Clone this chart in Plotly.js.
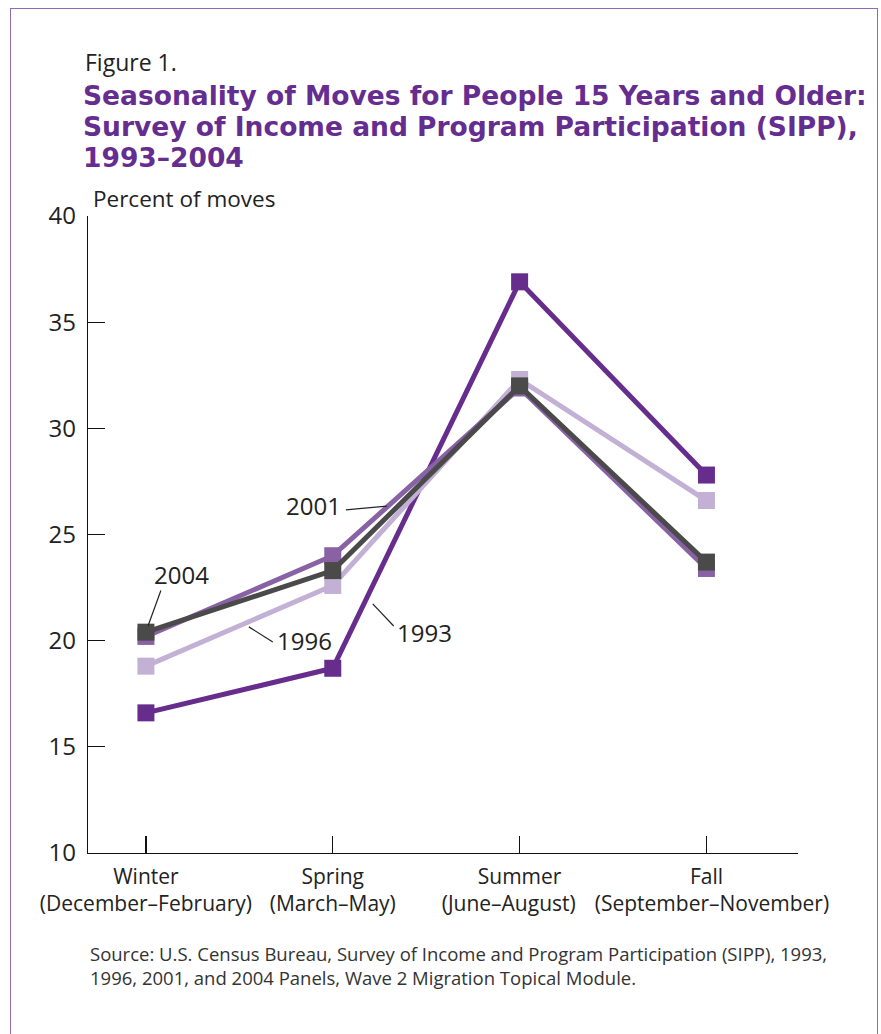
<!DOCTYPE html>
<html>
<head>
<meta charset="utf-8">
<script src="https://cdn.plot.ly/plotly-3.0.1.min.js"></script>
<style>
  html, body { margin: 0; padding: 0; background: #fff; }
  #frame { position: absolute; left: 10px; top: 8px; width: 868px; height: 1040px; border: 1.5px solid #8f6bb5; box-sizing: border-box; pointer-events: none; z-index: 5; }
  #chart { width: 881px; height: 1034px; }
</style>
</head>
<body>
<div id="frame"></div>
<div id="chart"></div>
<script>
// ---- data ----
const seasons = ["Winter<br>(December–February)", "Spring<br>(March–May)", "Summer<br>(June–August)&nbsp;&nbsp;&nbsp;&nbsp;", "Fall<br>&nbsp;&nbsp;(September–November)"];
const years = ["1993", "1996", "2001", "2004"];
const v1993 = [16.6, 18.7, 36.9, 27.8];
const v1996 = [18.8, 22.6, 32.3, 26.6];
const v2001 = [20.2, 24.0, 31.9, 23.4];
const v2004 = [20.4, 23.3, 32.0, 23.7];
const yTicks = [10, 15, 20, 25, 30, 35, 40];

const colors = {"1993": "#662d8c", "1996": "#c3b0d5", "2001": "#8862a5", "2004": "#4a4a4a"};
const series = {"1993": v1993, "1996": v1996, "2001": v2001, "2004": v2004};

const xIdx = seasons.map((_, i) => i);
const traces = years.map(y => ({
  type: "scatter",
  mode: "lines+markers",
  x: xIdx,
  y: series[y],
  name: y,
  line: {color: colors[y], width: 5},
  marker: {symbol: "square", size: 17, color: colors[y]},
  hoverinfo: "skip"
}));

const baseFont = "Open Sans, Noto Sans, DejaVu Sans, sans-serif";

// label annotations (text positions in data coords)
const labels = [
  {text: "2004", x: 0.193, y: 23.1},
  {text: "2001", x: 0.898, y: 26.35},
  {text: "1996", x: 0.850, y: 20.0},
  {text: "1993", x: 1.492, y: 20.4}
];
const leaders = [
  [0.011, 20.69, 0.080, 22.36],
  [1.07, 26.16, 1.289, 26.34],
  [0.551, 20.65, 0.679, 19.94],
  [1.214, 21.73, 1.326, 20.69]
];

const annotations = labels.map(l => ({
  text: l.text, x: l.x, y: l.y, xref: "x", yref: "y", showarrow: false,
  font: {family: baseFont, size: 24, color: "#222"}, xanchor: "center", yanchor: "middle"
}));
annotations.push({
  text: "Figure 1.", xref: "paper", yref: "paper", x: -0.0075, y: 1.241,
  xanchor: "left", yanchor: "middle", showarrow: false,
  font: {family: baseFont, size: 23, color: "#222"}
});
annotations.push({
  text: "Percent of moves", xref: "paper", yref: "paper", x: 0.004, y: 1.027,
  xanchor: "left", yanchor: "middle", showarrow: false,
  font: {family: baseFont, size: 22.5, color: "#222"}
});
annotations.push({
  text: "Source: U.S. Census Bureau, Survey of Income and Program Participation (SIPP), 1993,<br>1996, 2001, and 2004 Panels, Wave 2 Migration Topical Module.",
  xref: "paper", yref: "paper", x: 0.0, y: -0.135,
  xanchor: "left", yanchor: "top", align: "left", showarrow: false,
  font: {family: baseFont, size: 18.5, color: "#333"}
});

const shapes = leaders.map(s => ({
  type: "line", xref: "x", yref: "y", x0: s[0], y0: s[1], x1: s[2], y1: s[3],
  line: {color: "#222", width: 1.2}
}));

const layout = {
  width: 881, height: 1034,
  margin: {l: 88, r: 83, t: 216, b: 181},
  paper_bgcolor: "#fff", plot_bgcolor: "#fff",
  showlegend: false,
  title: {
    text: "<b><span style=\"font-size:26.5px\">Seasonality of Moves for People 15 Years and Older:</span><br><span style=\"font-size:26.5px\">Survey of Income and Program Participation (SIPP),</span><br><span style=\"font-size:26.5px\">1993–2004</span></b>",
    font: {family: "DejaVu Sans, Open Sans, sans-serif", size: 24, color: "#662d91"},
    x: 83 / 881, xanchor: "left", xref: "container",
    y: 1 - 105 / 1034, yanchor: "top", yref: "container"
  },
  xaxis: {
    range: [-0.31, 3.49],
    tickmode: "array", tickvals: xIdx, ticktext: seasons,
    tickangle: 0,
    ticks: "inside", ticklen: 17, tickwidth: 1.2, tickcolor: "#111",
    showline: true, linecolor: "#111", linewidth: 1.3,
    showgrid: false, zeroline: false,
    tickfont: {family: baseFont, size: 21, color: "#222"},
    ticklabelstandoff: 4,
    fixedrange: true
  },
  yaxis: {
    range: [10, 40],
    tickmode: "array", tickvals: yTicks,
    ticks: "inside", ticklen: 17, tickwidth: 1.2, tickcolor: "#111",
    showline: true, linecolor: "#111", linewidth: 1.3,
    showgrid: false, zeroline: false,
    tickfont: {family: baseFont, size: 24, color: "#222"},
    ticklabelstandoff: 6,
    fixedrange: true
  },
  annotations: annotations,
  shapes: shapes
};

Plotly.newPlot("chart", traces, layout, {displayModeBar: false, staticPlot: true});
</script>
</body>
</html>
